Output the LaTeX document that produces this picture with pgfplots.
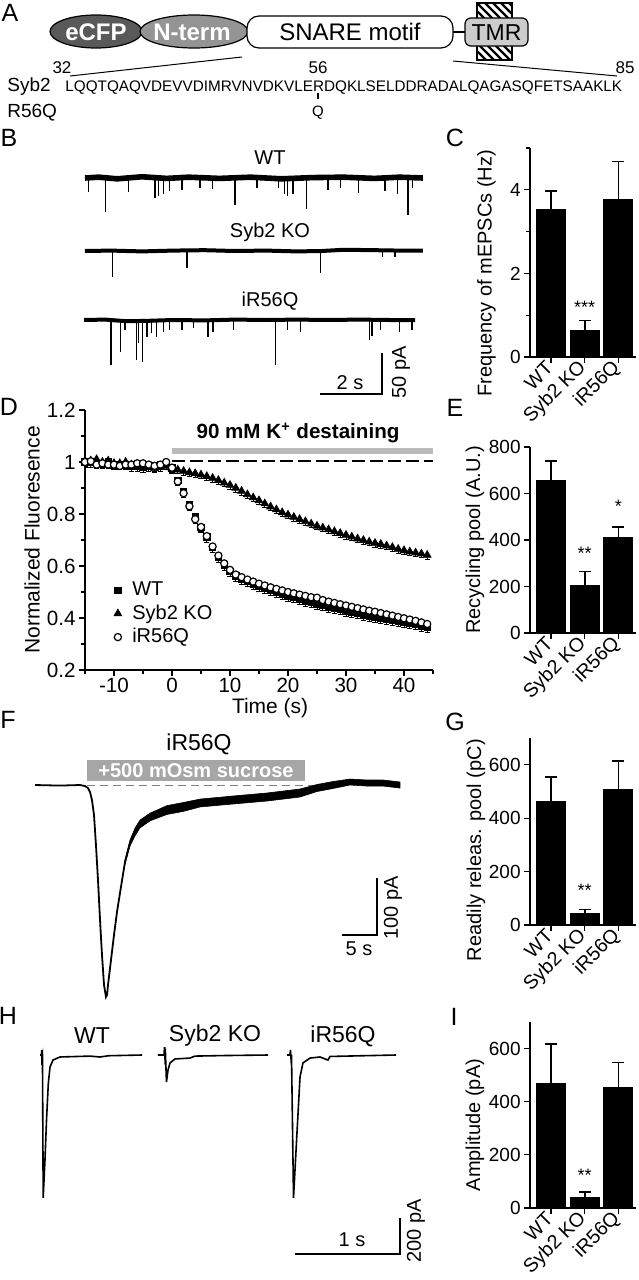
\documentclass[border=0pt]{standalone}
\usepackage{pgfplots}
\pgfplotsset{compat=1.18}
\usepackage{pgfplotstable}
\usepackage{fontspec}
\setmainfont{Liberation Sans}
\newcommand\fs[1]{\fontsize{#1}{#1}\selectfont}

\pgfplotstableread{
t wt ko ir
-15 1.000 1.005 1.000
-14 1.000 1.005 1.003
-13 0.995 1.010 0.990
-12 0.995 1.000 0.995
-11 1.000 1.005 0.990
-10 0.990 0.995 0.990
-9 0.990 0.995 0.985
-8 0.990 1.000 0.990
-7 0.985 0.990 0.990
-6 0.985 0.985 0.995
-5 0.980 0.985 0.995
-4 0.985 0.980 0.990
-3 0.985 0.975 0.985
-2 0.990 0.980 0.990
-1 0.990 0.985 1.000
0 0.978 0.975 0.978
1 0.930 0.970 0.925
2 0.885 0.965 0.880
3 0.838 0.960 0.830
4 0.790 0.956 0.780
5 0.748 0.951 0.750
6 0.712 0.945 0.715
7 0.672 0.938 0.675
8 0.635 0.930 0.640
9 0.605 0.920 0.610
10 0.580 0.911 0.585
11 0.562 0.900 0.567
12 0.550 0.888 0.557
13 0.540 0.875 0.548
14 0.530 0.863 0.540
15 0.522 0.852 0.532
16 0.514 0.840 0.525
17 0.506 0.828 0.518
18 0.499 0.817 0.512
19 0.492 0.806 0.506
20 0.485 0.797 0.500
21 0.479 0.788 0.495
22 0.472 0.780 0.490
23 0.466 0.771 0.485
24 0.460 0.762 0.480
25 0.454 0.754 0.478
26 0.448 0.747 0.469
27 0.442 0.740 0.463
28 0.437 0.733 0.458
29 0.432 0.726 0.453
30 0.427 0.719 0.448
31 0.422 0.712 0.443
32 0.417 0.705 0.438
33 0.412 0.699 0.433
34 0.408 0.693 0.428
35 0.404 0.688 0.424
36 0.399 0.684 0.419
37 0.395 0.678 0.414
38 0.391 0.672 0.409
39 0.387 0.665 0.404
40 0.383 0.660 0.399
41 0.379 0.655 0.394
42 0.375 0.651 0.389
43 0.369 0.647 0.383
44 0.363 0.642 0.377
}\Ddata

\pgfplotsset{
  /pgf/number format/assume math mode=true,
  barpanel/.style={
    scale only axis, width=53pt, anchor=south west,
    xmin=-0.623, xmax=2.52, ymin=0,
    axis x line*=bottom, axis y line*=left,
    axis line style={line width=0.6pt},
    tick style={line width=0.6pt, black},
    tick align=outside, major tick length=3pt, minor tick length=2pt,
    xtick={0,1,2}, xticklabels={WT,Syb2 KO,iR56Q},
    xticklabel style={rotate=45, anchor=east, font=\fs{9.8}, inner sep=1pt},
    yticklabel style={font=\fs{9.5}, inner sep=1.5pt},
    ylabel style={font=\fs{10}, anchor=center},
  },
  barplot/.style={ybar, bar width=14.5pt, fill=black, draw=black, line width=0.5pt,
    error bars/y dir=plus, error bars/y explicit,
    error bars/error bar style={line width=0.8pt, black, solid},
    error bars/error mark options={rotate=90, mark size=3pt, line width=0.8pt, black}},
  trace/.style={hide axis, scale only axis, width=175.15pt, height=28.7pt,
    xmin=0, xmax=11.3, ymin=-60, ymax=10, anchor=south west},
}

\begin{document}
\begin{tikzpicture}
\useasboundingbox (0,0) rectangle (319pt,-640pt);
\begin{scope}[x=0.5pt,y=-0.5pt]
% ---------- A ----------
\node[font=\fs{12.5}] at (10,13) {A};
\begin{scope}
\clip (477,3) rectangle (512,60);
\foreach \k in {-64,-56,...,40} \draw[line width=1.1pt] (477+\k,3) -- (534+\k,60);
\end{scope}
\draw[line width=0.6pt] (477,3) rectangle (512,60);
\draw[line width=1pt] (453,32) -- (466,32);
\draw[line width=0.6pt, fill=black!20, rounded corners=3pt] (465,18) rectangle (528,46);
\node[font=\fs{11.5}] at (496.5,32.5) {TMR};
\draw[line width=0.6pt, fill=black!65] (96,31.5) ellipse [x radius=46, y radius=16.5];
\draw[line width=0.6pt, fill=black!42] (194,31.5) ellipse [x radius=54, y radius=16.5];
\draw[line width=0.6pt, fill=white, rounded corners=6pt] (247,16) rectangle (453,48);
\node[font=\fs{12}\bfseries, text=white] at (96,32) {eCFP};
\node[font=\fs{12}\bfseries, text=white] at (192,32) {N-term};
\node[font=\fs{12}] at (350,32) {SNARE motif};
\draw[line width=0.5pt] (242,57) -- (70,76);
\draw[line width=0.5pt] (453,61) -- (617,76);
\node[font=\fs{8.5}, anchor=base] at (62,73) {32};
\node[font=\fs{8.5}, anchor=base] at (318,73) {56};
\node[font=\fs{8.5}, anchor=base] at (625,73) {85};
\node[font=\fs{9.5}, anchor=base west, inner sep=0pt] at (7,91) {Syb2};
\node[font=\fs{7.64}, anchor=base west, inner sep=0pt] at (65,91) {LQQTQAQVDEVVDIMRVNVDKVLERDQKLSELDDRADALQAGASQFETSAAKLK};
\draw[line width=1pt] (318,93) -- (318,99);
\node[font=\fs{7.5}] at (318,113) {Q};
\node[font=\fs{9.5}, anchor=base west, inner sep=0pt] at (7,117) {R56Q};
% ---------- B ----------
\node[font=\fs{12.5}] at (9,138) {B};
\node[font=\fs{10}] at (270,158) {WT};
\node[font=\fs{10}] at (270,232) {Syb2 KO};
\node[font=\fs{10}] at (270,301) {iR56Q};
\draw[line width=0.7pt] (320,394) -- (382,394) -- (382,353);
\node[font=\fs{10}] at (350,383) {2 s};
\node[font=\fs{10}, rotate=90] at (401,372) {50 pA};
% ---------- letters ----------
\node[font=\fs{12.5}] at (455,138) {C};
\node[font=\fs{12.5}] at (9,407) {D};
\node[font=\fs{12.5}] at (455,408) {E};
\node[font=\fs{12.5}] at (8,720) {F};
\node[font=\fs{12.5}] at (455,722) {G};
\node[font=\fs{12.5}] at (8,1016) {H};
\node[font=\fs{12.5}] at (454,1017) {I};
% ---------- D annotations ----------
\fill[black!27] (172,447.5) rectangle (433,453.5);
\draw[line width=0.6pt, dash pattern=on 6.5pt off 2.5pt] (172,461) -- (433,461);
\node[font=\fs{10.3}\bfseries] at (298,433) {90 mM K\textsuperscript{+} destaining};
% ---------- F annotations ----------
\node[font=\fs{11.5}] at (199,744) {iR56Q};
\fill[black!35] (87,760) rectangle (305,781);
\node[font=\fs{10}\bfseries, text=white] at (196,771) {+500 mOsm sucrose};
\draw[black!50, line width=0.5pt, dash pattern=on 4pt off 2.5pt] (87,785) -- (315,785);
\draw[line width=0.7pt] (342,935) -- (377,935) -- (377,878);
\node[font=\fs{10}] at (359,949) {5 s};
\node[font=\fs{10}, rotate=90] at (393,908) {100 pA};
% ---------- H annotations ----------
\node[font=\fs{11.5}] at (92,1036) {WT};
\node[font=\fs{11.5}] at (215,1036) {Syb2 KO};
\node[font=\fs{11.5}] at (343,1036) {iR56Q};
\draw[line width=0.7pt] (295,1254) -- (400,1254) -- (400,1218);
\node[font=\fs{10}] at (352,1240) {1 s};
\node[font=\fs{10}, rotate=90] at (416,1231) {200 pA};
\end{scope}

% ---------- B traces ----------
\begin{axis}[trace, at={(40pt,-113.6pt)}]
\addplot[black, line width=2.8pt] coordinates {(0.16,0) (0.6,1) (1.2,-1) (2,1.5) (2.8,-0.5) (3.5,1) (4.5,-0.5) (5.5,1) (6.5,-1) (7.5,0.5) (8.5,1) (9.5,-0.5) (10.3,1) (11.06,0)};
\addplot[ycomb, black, line width=0.55pt, mark=none] coordinates {(0.26,-17) (0.81,-42) (1.55,-17) (2.42,-24) (2.52,-22) (2.68,-20) (2.90,-16) (3.29,-15) (3.87,-12) (4.26,-14) (5.0,-33) (5.71,-12) (6.39,-12) (6.61,-20) (6.68,-22) (6.87,-20) (7.32,-38) (8.0,-15) (8.39,-12) (8.97,-18) (9.84,-16) (10.23,-20) (10.58,-45) (10.74,-12)};
\end{axis}
\begin{axis}[trace, at={(40pt,-150.1pt)}]
\addplot[black, line width=2pt] coordinates {(0.16,0) (1,0.5) (2,-0.5) (3,0.5) (4,1) (5,0) (6,0.5) (7,-0.5) (7.8,0) (8.5,1.5) (9.5,1) (10.3,0.5) (11.06,0.5)};
\addplot[ycomb, black, line width=0.55pt, mark=none] coordinates {(1.06,-32) (3.45,-21) (7.77,-27) (9.77,-7) (10.16,-7)};
\end{axis}
\begin{axis}[trace, at={(40pt,-184.6pt)}]
\addplot[black, line width=2pt] coordinates {(0.13,0) (0.8,0.5) (1.5,-1.5) (2.2,-1) (3,0) (4,-0.5) (5,0.5) (6,0) (7,0.5) (8,0) (9,0.5) (10,0) (10.81,0)};
\addplot[ycomb, black, line width=0.55pt, mark=none] coordinates {(1.0,-55) (1.32,-39) (1.45,-12) (1.81,-49) (1.90,-28) (2.03,-51) (2.16,-21) (2.32,-16) (2.48,-21) (2.68,-15) (2.90,-12) (3.29,-12) (3.65,-10) (4.13,-21) (4.29,-15) (4.94,-12) (6.32,-55) (6.68,-12) (7.10,-15) (9.35,-24) (9.42,-20) (9.68,-12) (10.32,-15) (10.71,-12)};
\end{axis}

% ---------- C ----------
\begin{axis}[barpanel, at={(265pt,-178.5pt)}, height=104.5pt, ymax=5,
  ytick={0,2,4}, minor ytick={1,3,5},
  ylabel={Frequency of mEPSCs (Hz)}, ylabel style={at={(axis description cs:-0.41,0.40)}}]
\addplot[barplot] coordinates {(0,3.52) +- (0,0.45) (1,0.63) +- (0,0.24) (2,3.76) +- (0,0.92)};
\node[font=\fs{9}] at (axis cs:1,1.2) {***};
\end{axis}

% ---------- D ----------
\begin{axis}[scale only axis, width=174pt, height=130pt, at={(42.5pt,-335pt)}, anchor=south west,
  xmin=-15, xmax=45, ymin=0.2, ymax=1.2,
  axis x line*=bottom, axis y line*=left,
  axis line style={line width=0.6pt}, tick style={line width=0.6pt, black},
  tick align=outside, major tick length=3pt, minor tick length=2pt,
  xtick={-10,0,10,20,30,40}, minor xtick={-15,-5,5,15,25,35,45},
  ytick={0.2,0.4,0.6,0.8,1,1.2}, yticklabels={0.2,0.4,0.6,0.8,1,1.2},
  minor ytick={0.3,0.5,0.7,0.9,1.1},
  tick label style={font=\fs{10.3}},
  xticklabel style={inner sep=1pt},
  yticklabel style={inner sep=1.5pt},
  xlabel={Time (s)}, ylabel={Normalized Fluoresence},
  label style={font=\fs{10.5}},
  xlabel style={at={(axis description cs:0.532,-0.145)}, anchor=center},
  ylabel style={at={(axis description cs:-0.152,0.5)}, anchor=center},
  legend image code/.code={\path (-3pt,0pt) (5pt,0pt); \draw[#1] plot coordinates {(0pt,0pt)};},
  legend style={draw=none, fill=none, at={(0.075,0.355)}, anchor=north west,
    font=\fs{10}, row sep=-1pt, inner sep=0pt},
  legend cell align=left]
\addplot[only marks, mark=square*, mark size=1.6pt, black,
  error bars/y dir=minus, error bars/y fixed=0.02,
  error bars/error mark options={rotate=90, mark size=1.3pt, black}] table[x=t,y=wt] {\Ddata};
\addlegendentry{WT}
\addplot[only marks, mark=triangle*, mark size=2.2pt, black,
  error bars/y dir=minus, error bars/y fixed=0.015,
  error bars/error mark options={rotate=90, mark size=1.3pt, black}] table[x=t,y=ko] {\Ddata};
\addlegendentry{Syb2 KO}
\addplot[only marks, mark=*, mark size=1.8pt, black, mark options={fill=white, line width=0.6pt},
  error bars/y dir=minus, error bars/y fixed=0.015,
  error bars/error mark options={rotate=90, mark size=1.3pt, black}] table[x=t,y=ir] {\Ddata};
\addlegendentry{iR56Q}
\end{axis}

% ---------- E ----------
\begin{axis}[barpanel, at={(265pt,-316.5pt)}, height=93pt, ymax=800,
  ytick={0,200,400,600,800},
  ylabel={Recycling pool (A.U.)}, ylabel style={at={(axis description cs:-0.52,0.5)}}]
\addplot[barplot] coordinates {(0,658) +- (0,83) (1,204) +- (0,60) (2,410) +- (0,47)};
\node[font=\fs{9}] at (axis cs:1,344) {**};
\node[font=\fs{9}] at (axis cs:2,543) {*};
\end{axis}

% ---------- F ----------
\begin{axis}[hide axis, scale only axis, width=185.5pt, height=119.7pt,
  xmin=0, xmax=53, ymin=-400, ymax=20, at={(17.5pt,-506.5pt)}, anchor=south west]
\addplot[black, line width=0.9pt] coordinates {(0,0) (3.57,-1) (6.43,0) (7.14,-1.8) (7.57,-5.3) (7.86,-12.3) (8.14,-26.3) (8.43,-52.6) (8.71,-105.3) (9.0,-166.7) (9.29,-236.8) (9.57,-298.2) (9.86,-350.9) (10.14,-371.9) (10.29,-368.4) (10.43,-350.9) (10.857,-307.0) (11.286,-263.2) (11.714,-222.8) (12.143,-189.5) (12.857,-135.1) (13.571,-101.8) (14.286,-82.5) (15,-68.4) (16.429,-56.1) (18.857,-43.9) (21.143,-38.6) (23.571,-31.6) (28.286,-26.3) (33.143,-21.1) (37.857,-14.0) (40.286,-5.3) (42.571,0) (45,5.3) (47.429,3.5) (49.714,3.5) (52.143,0)};
\addplot[fill=black, draw=black, line width=0.3pt] coordinates {(12.857,-131.6) (13.571,-96.7) (14.286,-75.7) (15,-61.6) (16.429,-49.4) (18.857,-36.1) (21.143,-30.8) (23.571,-24.7) (28.286,-19.3) (33.143,-14.0) (37.857,-7.0) (40.286,0.9) (42.571,6.1) (45,10.5) (47.429,8.8) (49.714,8.8) (52.143,5.3) (52.143,-5.3) (49.714,-1.8) (47.429,-1.8) (45,0) (42.571,-6.1) (40.286,-11.4) (37.857,-21.1) (33.143,-28.1) (28.286,-33.3) (23.571,-38.5) (21.143,-46.4) (18.857,-51.6) (16.429,-62.9) (15,-75.2) (14.286,-89.2) (13.571,-106.8) (12.857,-138.6)} -- cycle;
\end{axis}

% ---------- G ----------
\begin{axis}[barpanel, at={(265pt,-462.5pt)}, height=93.5pt, ymax=700,
  ytick={0,200,400,600},
  ylabel={Readily releas. pool (pC)}, ylabel style={at={(axis description cs:-0.51,0.40)}}]
\addplot[barplot] coordinates {(0,462) +- (0,91) (1,44) +- (0,14) (2,508) +- (0,107)};
\node[font=\fs{9}] at (axis cs:1,131) {**};
\end{axis}

% ---------- H ----------
\begin{axis}[hide axis, scale only axis, width=183.75pt, height=108pt,
  xmin=0, xmax=3.5, ymin=-1100, ymax=100, at={(17.5pt,-626.5pt)}, anchor=south west]
\addplot[black, line width=0.8pt] coordinates {(0.048,0) (0.062,0) (0.063,27.8) (0.065,-16.7) (0.071,0) (0.078,-794) (0.095,-583) (0.111,-344) (0.127,-156) (0.143,-67) (0.171,-28) (0.238,-11) (0.524,-6) (0.619,-11) (0.70,-4) (1.019,0)};
\addplot[black, line width=0.8pt] coordinates {(1.171,0) (1.229,0) (1.233,44) (1.238,-17) (1.243,0) (1.252,-150) (1.267,-83) (1.286,-44) (1.333,-22) (1.476,-17) (1.524,-6) (1.8,-3) (2.219,0)};
\addplot[black, line width=0.8pt] coordinates {(2.4,0) (2.429,0) (2.433,28) (2.438,-17) (2.443,0) (2.462,-794) (2.495,-433) (2.524,-122) (2.552,-44) (2.619,-17) (2.714,-11) (2.790,-28) (2.81,-8) (3.438,0)};
\end{axis}

% ---------- I ----------
\begin{axis}[barpanel, at={(265pt,-604pt)}, height=93pt, ymax=700,
  ytick={0,200,400,600},
  ylabel={Amplitude (pA)}, ylabel style={at={(axis description cs:-0.52,0.446)}}]
\addplot[barplot] coordinates {(0,467) +- (0,150) (1,40) +- (0,20) (2,452) +- (0,96)};
\node[font=\fs{9}] at (axis cs:1,124) {**};
\end{axis}
\end{tikzpicture}
\end{document}
